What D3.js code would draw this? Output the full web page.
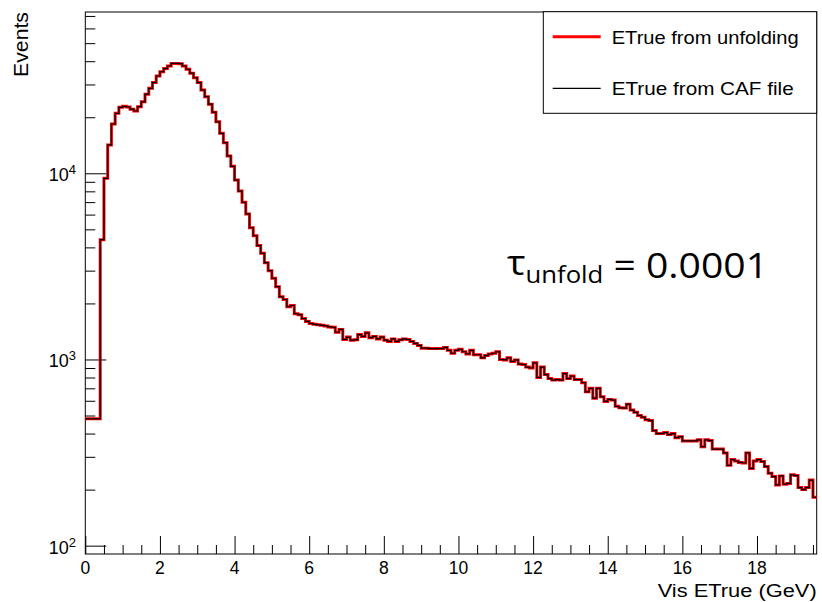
<!DOCTYPE html>
<html>
<head>
<meta charset="utf-8">
<script src="https://cdn.jsdelivr.net/npm/d3@7"></script>
<style>
  body { margin: 0; background: #fff; }
  text { font-family: "Liberation Sans", Arial, Helvetica, sans-serif; fill: #000; }
</style>
</head>
<body>
<div id="area1"></div>
<script>
// first bin is wide (0 - 0.4 GeV), then 0.1 GeV bins up to 19.6
var firstEdges = [0, 0.4];
var binWidth = 0.1;
var lastEdge = 19.6;

// bin contents (Events per bin)
var unfoldCounts = [
	480,
	4400, 9400, 14200, 18400, 21000, 22600, 22900, 22700, 22100, 21600,
	22800, 24200, 26600, 28600, 30700, 33300, 35100, 36500, 37700, 38900,
	38900, 38800, 37700, 36200, 34500, 32600, 30700, 28000, 25800, 23500,
	21300, 18900, 16400, 14600, 12400, 10900, 9200, 8030, 6990, 6050,
	5100, 4620, 4090, 3720, 3310, 3000, 2730, 2460, 2170, 2100,
	1920, 1950, 1760, 1740, 1660, 1600, 1560, 1545, 1535, 1525,
	1515, 1495, 1490, 1400, 1450, 1280, 1320, 1270, 1275, 1360,
	1330, 1390, 1310, 1330, 1290, 1320, 1270, 1250, 1290, 1250,
	1275, 1290, 1280, 1250, 1220, 1190, 1150, 1150, 1145, 1145,
	1145, 1145, 1160, 1120, 1080, 1120, 1135, 1100, 1070, 1120,
	1060, 1060, 1020, 1050, 1070, 1080, 1100, 1000, 995, 1020,
	975, 995, 945, 940, 910, 900, 960, 800, 910, 830,
	790, 775, 780, 775, 840, 790, 815, 780, 780, 750,
	670, 700, 620, 700, 630, 595, 610, 605, 560, 550,
	548, 575, 535, 520, 500, 490, 475, 470, 415, 400,
	400, 405, 395, 400, 380, 385, 365, 365, 365, 365,
	370, 340, 370, 367, 330, 330, 330, 315, 270, 290,
	285, 280, 278, 315, 260, 285, 290, 283, 266, 245,
	235, 212, 237, 214, 216, 240, 238, 205, 200, 205,
	225, 182
];
// CAF truth lies on top of the unfolded result at this resolution
var cafCounts = unfoldCounts.slice();

var xMajorTicks = [0, 2, 4, 6, 8, 10, 12, 14, 16, 18];
var yMajorTicks = [100, 1000, 10000];
var yTickPowers = ["2", "3", "4"];

var legendLabels = ["ETrue from unfolding", "ETrue from CAF file"];
var xTitle = "Vis ETrue (GeV)";
var yTitle = "Events";

function drawHistogram(){
	var svgWidth = 822;
	var svgHeight = 602;
	var margin = {top: 12, right: 5.3, bottom: 48, left: 85.3};
	var plotRight = svgWidth - margin.right;
	var plotBottom = svgHeight - margin.bottom;

	//bin edges
	var edges = firstEdges.slice();
	while (edges[edges.length - 1] < lastEdge - 1e-9) {
		edges.push(Math.round((edges[edges.length - 1] + binWidth) * 10) / 10);
	}

	var xScale = d3.scaleLinear()
		.domain([0, lastEdge])
		.range([margin.left, plotRight]);

	var yScale = d3.scaleLog()
		.domain([90.2, 73500])
		.range([plotBottom, margin.top]);

	var svg = d3.select("#area1")
		.append("svg")
		.attr("width", svgWidth)
		.attr("height", svgHeight);

	//frame
	svg.append("rect")
		.attr("x", margin.left)
		.attr("y", margin.top)
		.attr("width", plotRight - margin.left)
		.attr("height", plotBottom - margin.top)
		.attr("fill", "none")
		.attr("stroke", "#000")
		.attr("stroke-width", 1);

	//x ticks, pointing inward
	var xMinor = d3.range(0, 19.51, 0.5).filter(function(d){ return d % 2 !== 0; });
	svg.append("g")
		.attr("transform", "translate(0," + plotBottom + ")")
		.call(d3.axisTop(xScale).tickValues(xMajorTicks).tickSize(18).tickFormat(""))
		.call(function(g){ g.select(".domain").remove(); });
	svg.append("g")
		.attr("transform", "translate(0," + plotBottom + ")")
		.call(d3.axisTop(xScale).tickValues(xMinor).tickSize(9).tickFormat(""))
		.call(function(g){ g.select(".domain").remove(); });

	svg.selectAll(".xlab")
		.data(xMajorTicks)
		.enter()
		.append("text")
		.attr("class", "xlab")
		.attr("x", function(d){ return xScale(d); })
		.attr("y", plotBottom + 20)
		.attr("text-anchor", "middle")
		.style("font-size", "17.5px")
		.text(function(d){ return d; });

	//y ticks, log
	var yMinor = [];
	[100, 1000, 10000].forEach(function(dec){
		for (var m = 2; m <= 9; m++) {
			if (dec * m < 73500) yMinor.push(dec * m);
		}
	});
	svg.append("g")
		.attr("transform", "translate(" + margin.left + ",0)")
		.call(d3.axisRight(yScale).tickValues(yMajorTicks).tickSize(21).tickFormat(""))
		.call(function(g){ g.select(".domain").remove(); });
	svg.append("g")
		.attr("transform", "translate(" + margin.left + ",0)")
		.call(d3.axisRight(yScale).tickValues(yMinor).tickSize(10).tickFormat(""))
		.call(function(g){ g.select(".domain").remove(); });
	svg.selectAll(".tick line").attr("stroke", "#000");

	var ylab = svg.selectAll(".ylab")
		.data(yMajorTicks)
		.enter()
		.append("text")
		.attr("class", "ylab")
		.attr("x", 76)
		.attr("y", function(d){ return yScale(d) + 8; })
		.attr("text-anchor", "end")
		.style("font-size", "18px");
	ylab.append("tspan").text("10");
	ylab.append("tspan")
		.attr("dy", -7)
		.style("font-size", "13px")
		.text(function(d, i){ return yTickPowers[i]; });

	//histograms
	function stepPoints(counts){
		var pts = counts.map(function(c, i){ return [edges[i], c]; });
		pts.push([edges[counts.length], counts[counts.length - 1]]);
		return pts;
	}
	var line = d3.line()
		.x(function(d){ return xScale(d[0]); })
		.y(function(d){ return yScale(d[1]); })
		.curve(d3.curveStepAfter);

	svg.append("path")
		.datum(stepPoints(unfoldCounts))
		.attr("d", line)
		.attr("fill", "none")
		.attr("stroke", "#ff0000")
		.attr("stroke-width", 3);

	svg.append("path")
		.datum(stepPoints(cafCounts))
		.attr("d", line)
		.attr("fill", "none")
		.attr("stroke", "#000")
		.attr("stroke-width", 1.2);

	//legend
	var legend = svg.append("g");
	legend.append("rect")
		.attr("x", 543.3)
		.attr("y", 11.7)
		.attr("width", 273.4)
		.attr("height", 101.6)
		.attr("fill", "#fff")
		.attr("stroke", "#000")
		.attr("stroke-width", 1);
	var legendColors = ["#ff0000", "#000"];
	var legendWidths = [3, 1.2];
	var legendY = [36.7, 88.3];
	var legendTextLen = [187, 182];
	legendLabels.forEach(function(lbl, i){
		legend.append("line")
			.attr("x1", 552.7).attr("x2", 600.7)
			.attr("y1", legendY[i]).attr("y2", legendY[i])
			.attr("stroke", legendColors[i])
			.attr("stroke-width", legendWidths[i]);
		legend.append("text")
			.attr("x", 611.7)
			.attr("y", legendY[i] + 7)
			.attr("textLength", legendTextLen[i])
			.attr("lengthAdjust", "spacingAndGlyphs")
			.style("font-size", "19px")
			.text(lbl);
	});

	//axis titles
	svg.append("text")
		.attr("x", plotRight - 159)
		.attr("y", 597)
		.attr("textLength", 159)
		.attr("lengthAdjust", "spacingAndGlyphs")
		.style("font-size", "18px")
		.text(xTitle);

	svg.append("text")
		.attr("transform", "translate(28,77) rotate(-90)")
		.attr("textLength", 65)
		.attr("lengthAdjust", "spacingAndGlyphs")
		.style("font-size", "20px")
		.text(yTitle);

	//tau annotation
	var tau = svg.append("text")
		.attr("x", 507)
		.attr("y", 278)
		.attr("textLength", 261)
		.attr("lengthAdjust", "spacingAndGlyphs")
		.style("font-family", "'Open Sans', 'Noto Sans', sans-serif")
		.style("font-size", "35px");
	tau.append("tspan").attr("dy", -3).text("τ");
	tau.append("tspan").attr("dy", 8).style("font-size", "23px").text("unfold");
	tau.append("tspan").attr("dy", -5).text(" = 0.0001");
}

drawHistogram();
</script>
</body>
</html>
